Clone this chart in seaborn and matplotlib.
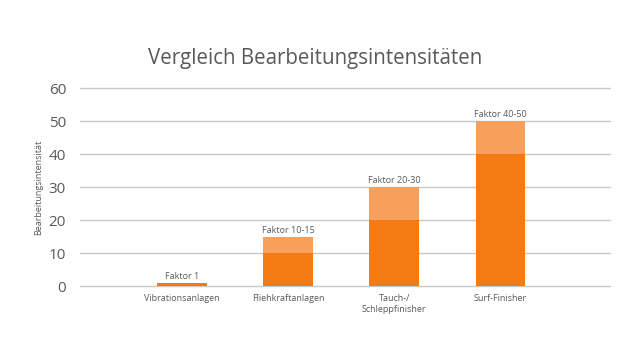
import numpy as np
import pandas as pd
import matplotlib
matplotlib.use("Agg")
import matplotlib.pyplot as plt
import seaborn as sns

# Daten aus dem Diagramm
kategorien = ["Vibrationsanlagen", "Fliehkraftanlagen", "Tauch-/\nSchleppfinisher", "Surf-Finisher"]
basis = [1, 10, 20, 40]
spanne = [0, 5, 10, 10]
beschriftung = ["Faktor 1", "Faktor 10-15", "Faktor 20-30", "Faktor 40-50"]

df = pd.DataFrame({"kategorie": kategorien, "basis": basis, "spanne": spanne})
df["gesamt"] = df["basis"] + df["spanne"]

sns.set_style("white")
plt.rcParams["font.family"] = ["Open Sans", "DejaVu Sans"]
grau = "#595959"

fig = plt.figure(figsize=(6.3, 3.55), dpi=100)
ax = fig.add_axes([0.127, 0.194, 0.841, 0.558])

sns.barplot(data=df, x="kategorie", y="gesamt", color="#F7A05C", saturation=1,
            width=0.47, linewidth=0, ax=ax, zorder=3)
sns.barplot(data=df, x="kategorie", y="basis", color="#F47A14", saturation=1,
            width=0.47, linewidth=0, ax=ax, zorder=4)

for i, (wert, text) in enumerate(zip(df["gesamt"], beschriftung)):
    ax.annotate(text, (i, wert), xytext=(0, 1.5), textcoords="offset points",
                ha="center", va="bottom", fontsize=6.5, color=grau, zorder=5)

ax.set_ylim(0, 60)
ax.set_yticks(np.arange(0, 61, 10))
ax.set_xlim(-0.96, 4.03)
ax.yaxis.grid(True, color="#c8c8c8", linewidth=1, zorder=0)
ax.set_axisbelow(True)
for linie in ax.get_ygridlines():
    linie.set_clip_on(False)
sns.despine(ax=ax, left=True, bottom=True)
ax.tick_params(axis="both", length=0)
ax.tick_params(axis="y", labelsize=11, labelcolor=grau, pad=10)
ax.tick_params(axis="x", labelsize=6.5, labelcolor=grau, pad=6)
ax.set_xlabel("")
ax.set_ylabel("Bearbeitungsintensität", fontsize=6.5, color=grau, labelpad=4)

fig.suptitle("Vergleich Bearbeitungsintensitäten", fontsize=14.8, color=grau, y=0.865)

fig.savefig("out.png", dpi=100)
